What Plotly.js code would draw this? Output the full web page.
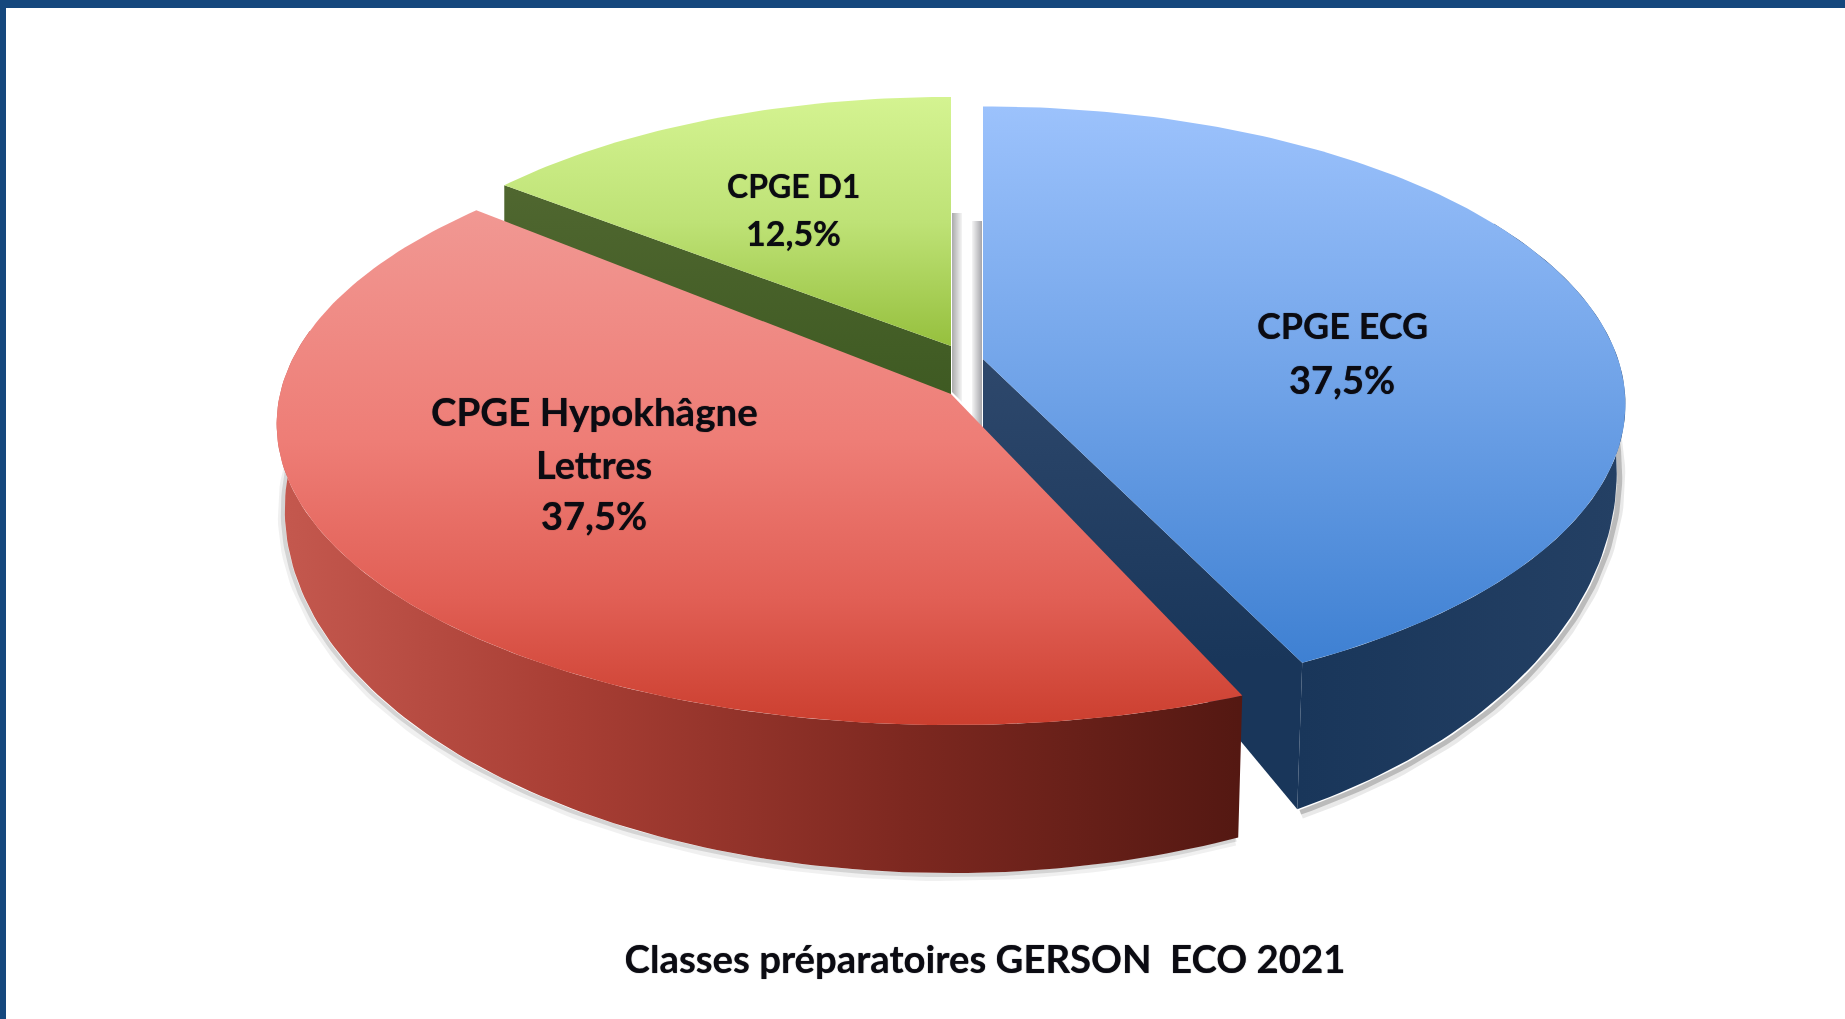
<!DOCTYPE html>
<html>
<head>
<meta charset="utf-8">
<script src="https://cdn.plot.ly/plotly-3.0.1.min.js"></script>
<style>html,body{margin:0;padding:0;background:#fff;overflow:hidden}#chart{width:1845px;height:1019px;filter:blur(0.6px)}</style>
</head>
<body>
<div id="chart"></div>
<script>
const categories = ["CPGE ECG", "CPGE Hypokhâgne Lettres", "CPGE D1"];
const shares = [37.5, 37.5, 12.5];
const percentLabels = ["37,5%", "37,5%", "12,5%"];
const chartTitle = "Classes préparatoires GERSON  ECO 2021";

// Perspective discs: top and bottom face of each exploded slice
const TOP = [
  {cx: 983, cy: 359, R: 635, a: 291, p: 0.152, rot: 0},
  {cx: 951, cy: 394, R: 671, a: 298, p: 0.10, rot: 2.5},
  {cx: 951, cy: 346, R: 607, a: 274, p: 0.10, rot: 0}
];
const BOTTOM = [
  {cx: 985, cy: 415, R: 625, a: 380, p: 0.146, rot: 0},
  {cx: 951, cy: 474, R: 663, a: 360, p: 0.098, rot: 2.5},
  {cx: 951, cy: 397, R: 607, a: 290, p: 0.10, rot: 0}
];

const total = shares.reduce((s, v) => s + v, 0);
let acc = 0;
const spans = shares.map(v => { const a0 = acc / total * 360; acc += v; return [a0, acc / total * 360]; });

function pt(g, deg) {
  const t = (deg + g.rot) * Math.PI / 180, X = Math.sin(t), Y = -Math.cos(t), w = 1 - g.p * Y;
  return [g.cx + g.R * X / w, g.cy + g.a * Y / w];
}
function arc(g, d0, d1) {
  const out = [], n = Math.max(2, Math.ceil(Math.abs(d1 - d0)));
  for (let i = 0; i <= n; i++) out.push(pt(g, d0 + (d1 - d0) * i / n));
  return out;
}
const apex = g => [g.cx, g.cy];
function poly(points, name, grad) {
  return {
    type: "scatter", mode: "lines", x: points.map(p => p[0]), y: points.map(p => p[1]),
    fill: "toself", line: {width: 0}, fillgradient: grad, name: name, hoverinfo: "name", showlegend: false
  };
}
const vgrad = (start, stop, cs) => ({type: "vertical", start, stop, colorscale: cs});
const hgrad = (start, stop, cs) => ({type: "horizontal", start, stop, colorscale: cs});
function shadow(points, dx, dy, width, alpha) {
  return {
    type: "scatter", mode: "lines", x: points.map(p => p[0] + dx), y: points.map(p => p[1] + dy),
    line: {width: width, color: "rgba(70,70,70," + alpha + ")"}, hoverinfo: "skip", showlegend: false
  };
}

const traces = [];

// gutter shadows between the exploded slices
traces.push(poly([[952, 213], [962, 213], [962, 402], [952, 392]], "", hgrad(952, 962, [[0, "rgb(170,170,170)"], [1, "rgb(245,245,245)"]])));
traces.push(poly([[972, 221], [982, 221], [982, 430], [972, 420]], "", hgrad(972, 982, [[0, "rgb(245,245,245)"], [1, "rgb(165,165,170)"]])));

// soft shadows
const blueEdge = arc(BOTTOM[0], 80, spans[0][1]);
traces.push(shadow(blueEdge, 4, 5, 9, 0.12), shadow(blueEdge, 3, 3, 5, 0.28));
const redEdge = arc(BOTTOM[1], spans[1][0], 285);
traces.push(shadow(redEdge, -3, 4, 8, 0.08), shadow(redEdge, -2, 2, 4, 0.16));

// ECG: cut face, outer wall, top
const s0 = spans[0];
traces.push(poly([pt(TOP[0], s0[1]), apex(TOP[0]), [TOP[0].cx, TOP[0].cy + 72], pt(BOTTOM[0], s0[1])],
  categories[0], vgrad(358, 660, [[0, "rgb(46,72,108)"], [1, "rgb(25,54,90)"]])));
traces.push(poly(arc(TOP[0], 60, s0[1]).concat(arc(BOTTOM[0], s0[1], 60)),
  categories[0], hgrad(1300, 1620, [[0, "rgb(25,54,90)"], [1, "rgb(36,64,100)"]])));
traces.push(poly([apex(TOP[0])].concat(arc(TOP[0], s0[0], s0[1])),
  categories[0], vgrad(106, 664, [[0, "rgb(156,194,252)"], [0.5, "rgb(112,163,232)"], [1, "rgb(62,128,210)"]])));

// D1: cut face, top
const s2 = spans[2];
traces.push(poly([pt(TOP[2], s2[0]), apex(TOP[2]), apex(BOTTOM[2]), pt(BOTTOM[2], s2[0])],
  categories[2], vgrad(185, 397, [[0, "rgb(80,103,48)"], [1, "rgb(62,90,34)"]])));
traces.push(poly([apex(TOP[2])].concat(arc(TOP[2], s2[0], s2[1])),
  categories[2], vgrad(98, 346, [[0, "rgb(212,243,145)"], [0.5, "rgb(190,226,118)"], [1, "rgb(150,192,62)"]])));

// Hypokhâgne: outer wall, top
const s1 = spans[1];
traces.push(poly(arc(TOP[1], s1[0], 280).concat(arc(BOTTOM[1], 280, s1[0])),
  categories[1], hgrad(285, 1240, [[0, "rgb(196,88,78)"], [0.3, "rgb(168,62,52)"], [0.65, "rgb(125,40,32)"], [1, "rgb(84,24,18)"]])));
traces.push(poly([apex(TOP[1])].concat(arc(TOP[1], s1[0], s1[1])),
  categories[1], vgrad(208, 728, [[0, "rgb(241,152,147)"], [0.45, "rgb(238,125,118)"], [0.75, "rgb(225,95,85)"], [1, "rgb(203,62,46)"]])));

const INK = "#0b0b12";
const GLOW = "0 0 1px rgba(0,0,0,0.7)";
const line = (text, x, y, size) => ({
  text: text, x: x, y: y, xref: "x", yref: "y", showarrow: false, xanchor: "center", yanchor: "middle",
  font: {family: "Lato, Carlito, sans-serif", size: size, color: INK, weight: 700, shadow: GLOW}
});
const annotations = [
  line(categories[0], 1342, 325, 36),
  line(percentLabels[0], 1342, 379, 38),
  line("CPGE Hypokhâgne", 594, 411, 38.5),
  line("Lettres", 594, 464, 38),
  line(percentLabels[1], 594, 515, 38),
  line(categories[2], 793, 185, 32),
  line(percentLabels[2], 793, 232, 34)
];

const layout = {
  width: 1845, height: 1019, margin: {l: 0, r: 0, t: 0, b: 0, pad: 0},
  paper_bgcolor: "#fff", plot_bgcolor: "#fff", showlegend: false,
  xaxis: {range: [0, 1845], visible: false, fixedrange: true},
  yaxis: {range: [1019, 0], visible: false, fixedrange: true},
  title: {text: chartTitle, x: 985 / 1845, xanchor: "center", y: 1 - 960 / 1019, yanchor: "middle",
    font: {family: "Lato, Carlito, sans-serif", size: 38.3, color: INK, weight: 700, shadow: GLOW}},
  annotations: annotations,
  shapes: [
    {type: "rect", xref: "x", yref: "y", x0: 0, x1: 1845, y0: 0, y1: 8, fillcolor: "#15477d", line: {width: 0}},
    {type: "rect", xref: "x", yref: "y", x0: 0, x1: 6, y0: 0, y1: 1019, fillcolor: "#15477d", line: {width: 0}}
  ]
};
Plotly.newPlot("chart", traces, layout, {displayModeBar: false, responsive: false});
</script>
</body>
</html>
